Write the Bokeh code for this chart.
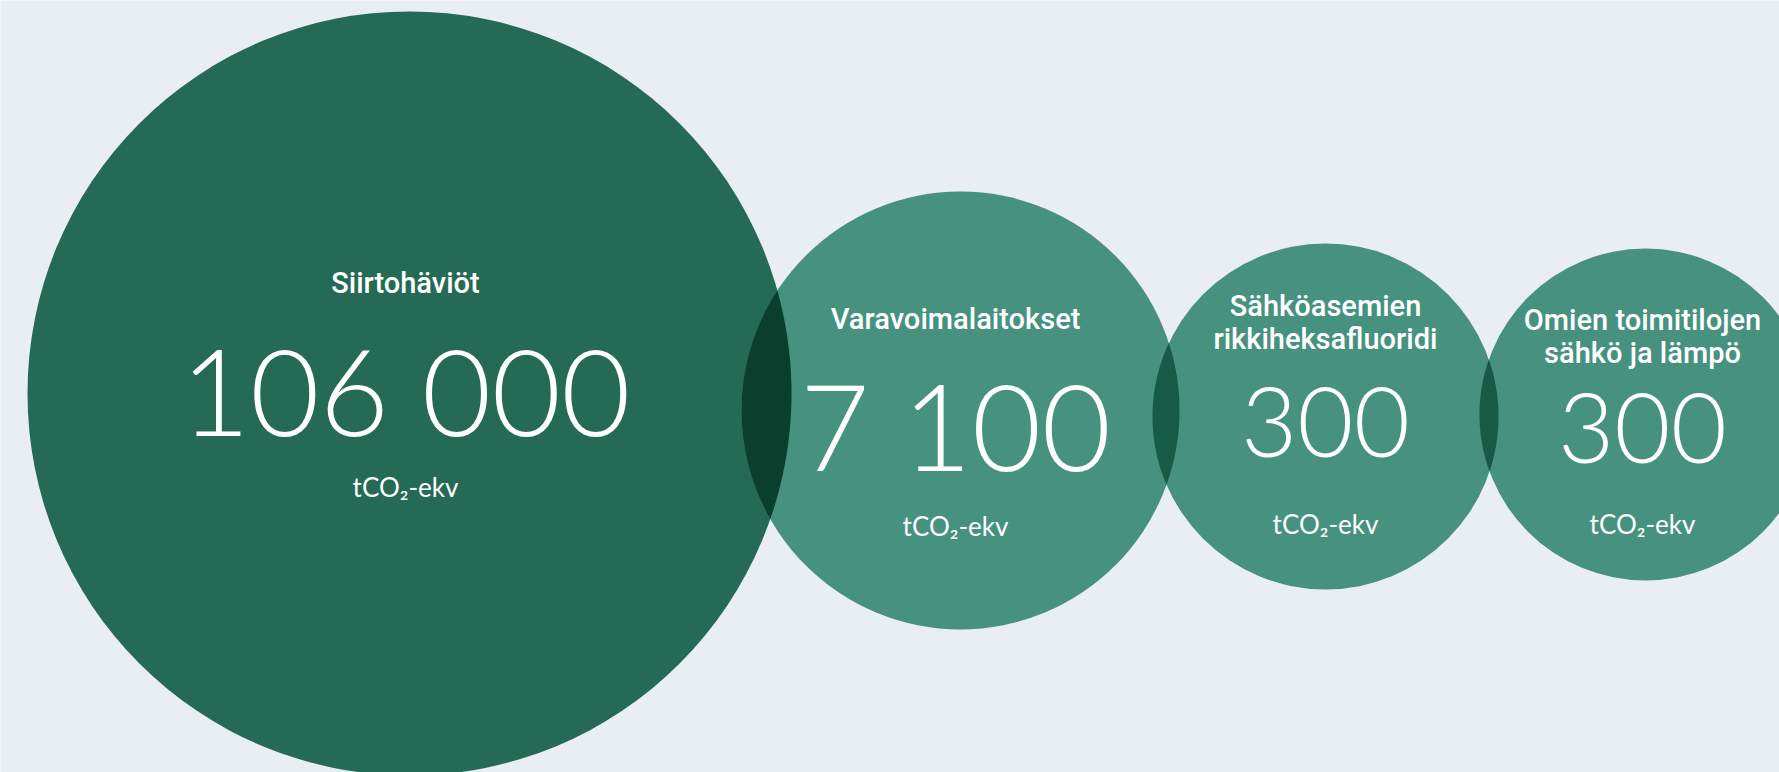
import numpy as np
from bokeh.plotting import figure
from bokeh.models import Range1d
from bokeh.core.properties import value
from bokeh.embed import file_html
from bokeh.resources import INLINE

# ---------------- data ----------------
categories = ["Siirtohäviöt", "Varavoimalaitokset",
              "Sähköasemien\nrikkiheksafluoridi", "Omien toimitilojen\nsähkö ja lämpö"]
emissions = [106000, 7100, 300, 300]
unit_label = "tCO₂-ekv"

# ---------------- layout (pixel space, y downward) ----------------
W, H = 1779, 772
cx = [409, 960, 1325, 1645]
cy = [393, 410, 416, 414]
radius = [382, 219, 173, 166]
text_dx = [-4, -5, 0, -3]              # horizontal nudge of the text block
label_dy = [-100, -81, -100, -84]      # baseline of first label line
label_lh = [0, 0, 33, 33]              # line height for multi-line labels
num_dy = [40, 58, 41, 49]              # baseline of big number
num_size = [120, 120, 97, 97]
unit_dy = [103, 125, 117, 119]
LABEL_SIZE = 29
UNIT_SIZE = 26
BASE_K = 0.36   # renderer baseline correction (fraction of font size)

BG = "#E8EEF2"
DARK = "#246A55"
LIGHT = "#46927F"
fills = [DARK, LIGHT, LIGHT, LIGHT]
lens_fill = ["#0B3F2D", "#175A46", "#175A46"]

p = figure(width=W, height=H, x_range=Range1d(0, W), y_range=Range1d(H, 0),
           output_backend="svg", toolbar_location=None, min_border=0)
p.axis.visible = False
p.grid.visible = False
p.outline_line_color = None
p.background_fill_color = BG
p.border_fill_color = BG

p.circle(x=cx, y=cy, radius=radius, fill_color=fills, line_color=None)

# overlapping lenses (multiply effect)
def lens(x1, y1, r1, x2, y2, r2, n=80):
    d = np.hypot(x2 - x1, y2 - y1)
    a = (r1 ** 2 - r2 ** 2 + d ** 2) / (2 * d)
    th0 = np.arctan2(y2 - y1, x2 - x1)
    al1 = np.arccos(a / r1)
    al2 = np.arccos((d - a) / r2)
    t1 = np.linspace(th0 - al1, th0 + al1, n)
    t2 = np.linspace(th0 + np.pi - al2, th0 + np.pi + al2, n)
    xs = np.concatenate([x1 + r1 * np.cos(t1), x2 + r2 * np.cos(t2)])
    ys = np.concatenate([y1 + r1 * np.sin(t1), y2 + r2 * np.sin(t2)])
    return list(xs), list(ys)

lx, ly = [], []
for i in range(len(cx) - 1):
    xs, ys = lens(cx[i], cy[i], radius[i], cx[i + 1], cy[i + 1], radius[i + 1])
    lx.append(xs)
    ly.append(ys)
p.patches(lx, ly, fill_color=lens_fill, line_color=None)

tcx = [cx[i] + text_dx[i] for i in range(len(cx))]

# labels
tx, ty, tt = [], [], []
for i, c in enumerate(categories):
    for j, line in enumerate(c.split("\n")):
        tx.append(tcx[i])
        ty.append(cy[i] + label_dy[i] + j * label_lh[i] - BASE_K * LABEL_SIZE)
        tt.append(line)
p.text(x=tx, y=ty, text=tt, text_align="center", text_baseline="alphabetic",
       text_color="white", text_font=value("Roboto Medium"),
       text_font_size=f"{LABEL_SIZE}px")

# numbers (one call per font size)
nums = [f"{v:,}".replace(",", " ") for v in emissions]
for s in sorted(set(num_size)):
    idx = [i for i in range(len(nums)) if num_size[i] == s]
    p.text(x=[tcx[i] for i in idx], y=[cy[i] + num_dy[i] - BASE_K * s for i in idx],
           text=[nums[i] for i in idx],
           text_align="center", text_baseline="alphabetic", text_color="white",
           text_font=value("Lato Light"), text_font_size=f"{s}px")

# units
p.text(x=tcx, y=[cy[i] + unit_dy[i] - BASE_K * UNIT_SIZE for i in range(4)],
       text=[unit_label] * 4,
       text_align="center", text_baseline="alphabetic", text_color="white",
       text_font=value("Lato"), text_font_size=f"{UNIT_SIZE}px")

open("out.html", "w").write(file_html(p, INLINE))
